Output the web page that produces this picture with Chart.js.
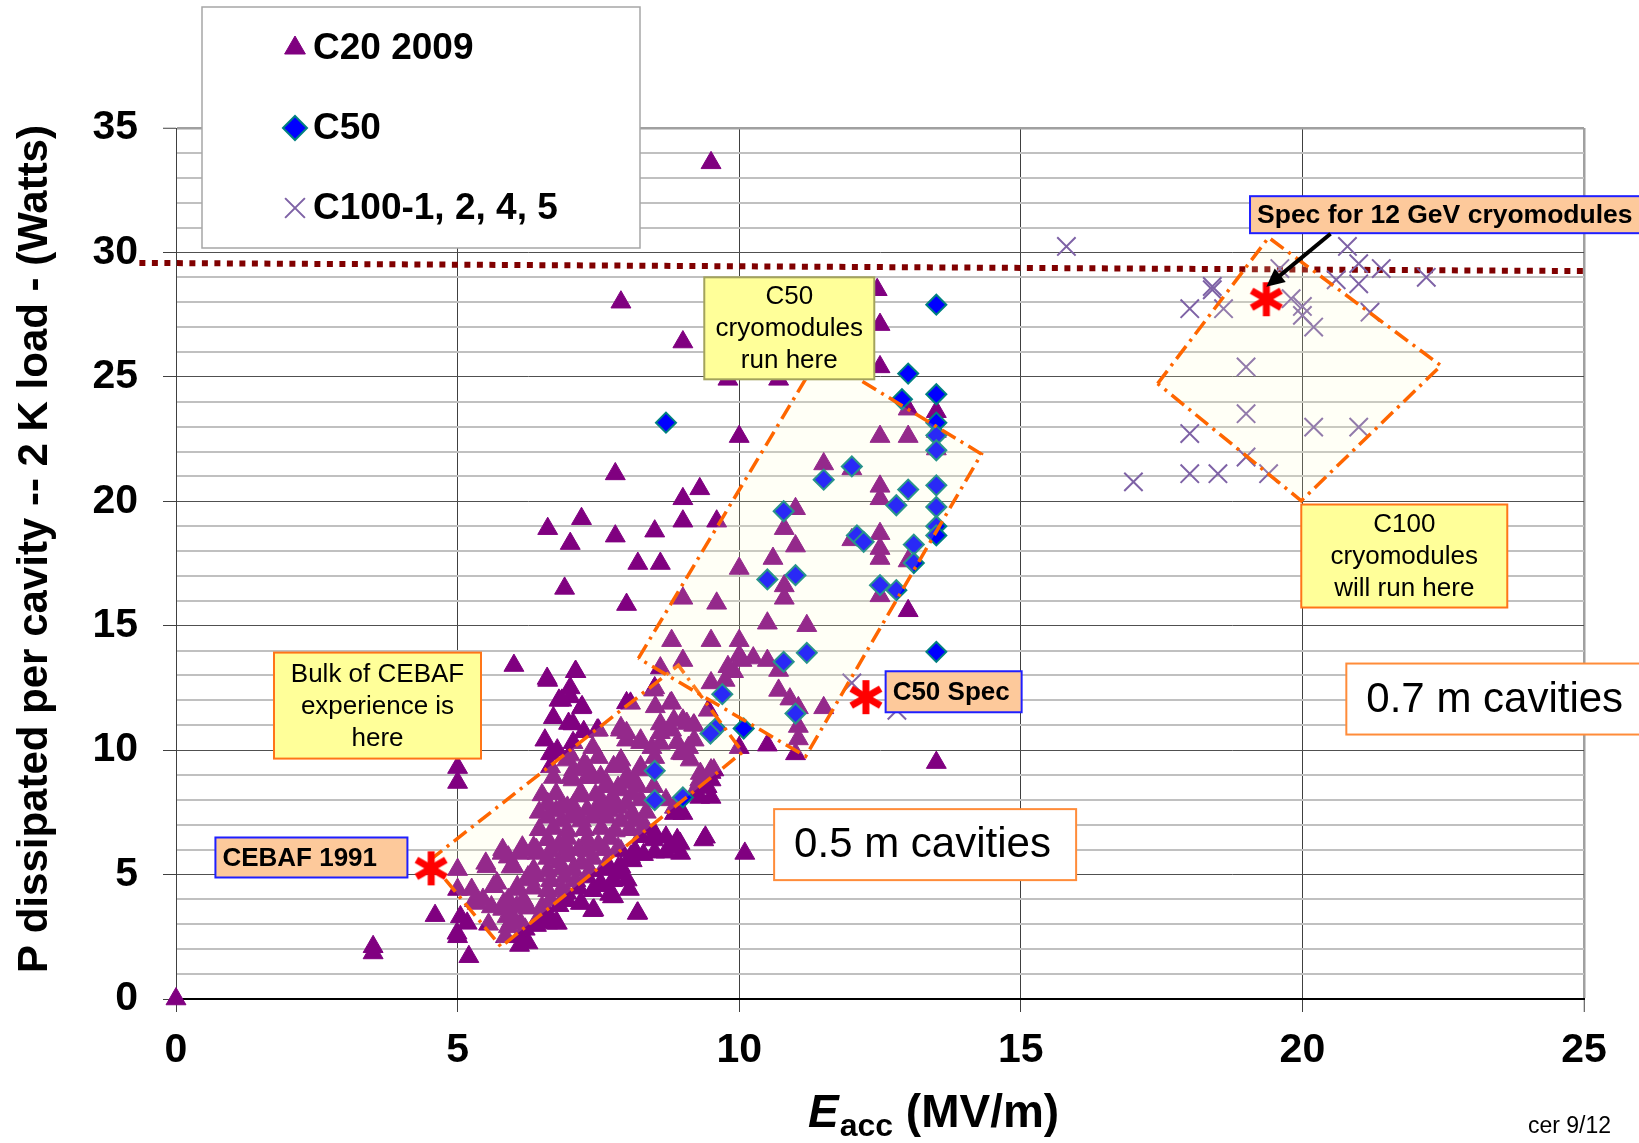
<!DOCTYPE html>
<html>
<head>
<meta charset="utf-8">
<title>Cryomodule heat load vs gradient</title>
<script src="https://cdn.jsdelivr.net/npm/chart.js@4.4.0/dist/chart.umd.min.js"></script>
<style>
  html, body { margin: 0; padding: 0; background: #fff; }
  canvas { display: block; }
</style>
</head>
<body>
<canvas id="myChart" width="1639" height="1143"></canvas>
<script>
// setup
const FONT = '"Liberation Sans", Arial, Helvetica, sans-serif';

const xTicks = [0, 5, 10, 15, 20, 25];
const yTicks = [0, 5, 10, 15, 20, 25, 30, 35];

// C20 2009 cavities: [Eacc MV/m, P watts]
const c20 = [
  [0, 0], [3.5, 2.1], [3.5, 1.85], [4.6, 3.35], [5.0, 2.5], [5.2, 1.7], [5.05, 3.3], [5.0, 4.4], [5.0, 5.2],
  [5.0, 8.7], [5.0, 9.3], [5.25, 4.4], [5.3, 3.95], [5.45, 4.0], [5.5, 5.45], [5.7, 4.65], [5.8, 6.0], [5.8, 3.6],
  [5.9, 4.0], [5.9, 2.9], [5.95, 5.3], [5.9, 5.7], [5.95, 3.1], [6.0, 3.2], [6.05, 3.7], [6.1, 2.15], [6.1, 5.85],
  [6.15, 6.1], [6.2, 2.8], [6.25, 2.25], [6.25, 4.9], [6.35, 6.1], [6.4, 4.95], [6.45, 3.3], [6.6, 3.45], [6.6, 5.65],
  [6.6, 6.4], [6.6, 7.3], [6.6, 7.85], [6.65, 4.75], [6.65, 9.85], [6.7, 8.9], [6.75, 3.05], [6.8, 5.5], [6.8, 6.2],
  [6.85, 7.15], [6.85, 7.75], [6.85, 12.0], [6.9, 4.9], [6.9, 16.5], [6.95, 3.95], [6.95, 5.75], [6.95, 6.45],
  [6.95, 7.7], [7.0, 7.3], [7.0, 8.9], [7.0, 9.8], [7.0, 12.5], [7.0, 18.3], [7.05, 7.75], [7.05, 8.8], [7.05, 10.3],
  [7.05, 11.05], [7.1, 4.75], [7.1, 13.15], [7.15, 6.0], [7.2, 3.85], [7.2, 5.45], [7.2, 7.15], [7.2, 8.25],
  [7.2, 11.7], [7.2, 19.3], [7.25, 9.3], [7.25, 9.45], [7.3, 4.9], [7.3, 6.4], [7.3, 7.6], [7.3, 8.9], [7.4, 3.55],
  [7.4, 5.65], [7.4, 7.3], [7.4, 8.9], [7.4, 10.1], [7.5, 6.2], [7.5, 9.7], [7.5, 10.8], [7.55, 4.55], [7.55, 7.7],
  [7.55, 8.0], [7.65, 5.45], [7.65, 7.3], [7.65, 8.65], [7.7, 4.2], [7.7, 6.45], [7.75, 4.1], [7.75, 4.75],
  [7.75, 7.85], [7.8, 18.6], [7.8, 21.1], [7.85, 7.7], [7.85, 8.5], [7.9, 5.3], [7.9, 5.95], [7.9, 7.15], [7.9, 9.4],
  [7.9, 9.6], [7.9, 10.9], [7.9, 28.0], [8.0, 7.85], [8.0, 8.7], [8.0, 10.7], [8.0, 11.9], [8.0, 15.85], [8.05, 4.4],
  [8.1, 5.55], [8.15, 7.15], [8.2, 3.45], [8.2, 8.55], [8.2, 17.5], [8.25, 8.0], [8.25, 9.2], [8.25, 10.3],
  [8.3, 5.8], [8.3, 6.9], [8.45, 10.1], [8.5, 5.9], [8.5, 6.65], [8.5, 9.7], [8.5, 12.5], [8.5, 18.8], [8.6, 10.7],
  [8.6, 11.05], [8.6, 13.3], [8.6, 17.5], [8.7, 5.9], [8.7, 6.5], [8.7, 8.0], [8.8, 6.1], [8.8, 10.8], [8.8, 11.9],
  [8.8, 14.4], [8.85, 7.45], [8.85, 7.7], [8.9, 6.4], [8.9, 10.3], [8.95, 6.25], [9.0, 7.45], [9.0, 9.85],
  [9.0, 11.2], [9.0, 13.6], [9.0, 16.1], [9.0, 19.2], [9.0, 20.1], [9.0, 26.4], [9.1, 10.1], [9.2, 10.4],
  [9.2, 11.0], [9.3, 8.1], [9.3, 8.7], [9.3, 8.8], [9.3, 20.5], [9.35, 8.5], [9.4, 6.5], [9.45, 11.6], [9.5, 8.1],
  [9.5, 8.8], [9.5, 9.1], [9.5, 9.2], [9.5, 12.7], [9.5, 14.4], [9.5, 33.6], [9.6, 15.9], [9.6, 19.2], [9.75, 12.8],
  [9.8, 13.35], [9.8, 24.9], [9.9, 13.15], [10.0, 10.1], [10.0, 13.8], [10.0, 14.4], [10.0, 17.3], [10.0, 22.6],
  [10.05, 13.6], [10.1, 5.85], [10.25, 13.7], [10.5, 10.2], [10.5, 13.6], [10.5, 15.1], [10.6, 17.7], [10.7, 12.4],
  [10.7, 13.2], [10.7, 24.9], [10.8, 16.1], [10.8, 16.6], [10.8, 18.9], [10.9, 12.05], [11.0, 9.85], [11.0, 18.2],
  [11.0, 19.7], [11.05, 10.45], [11.05, 10.95], [11.05, 11.7], [11.2, 15.0], [11.5, 11.7], [11.5, 21.5],
  [12.0, 18.45], [12.0, 21.3], [12.45, 28.5], [12.5, 16.2], [12.5, 17.7], [12.5, 18.1], [12.5, 18.7], [12.5, 20.1],
  [12.5, 20.6], [12.5, 22.6], [12.5, 25.4], [12.5, 27.1], [13.0, 15.6], [13.0, 17.6], [13.0, 22.6], [13.0, 23.7],
  [13.5, 9.5], [13.5, 22.1], [13.5, 22.8], [13.5, 23.6], [6.0, 13.4], [6.6, 12.8], [6.6, 18.9], [6.55, 10.4],
  [6.7, 11.3],
  // the dense core of the CEBAF experience
  [6.5, 8.2], [6.75, 8.25], [7.15, 8.15], [7.45, 8.2], [7.75, 8.1], [8.1, 8.25],
  [6.45, 7.5], [6.75, 7.55], [7.1, 7.45], [7.45, 7.5], [7.7, 7.55], [8.1, 7.45], [8.35, 7.5],
  [6.45, 6.8], [6.7, 6.85], [6.95, 6.75], [7.25, 6.8], [7.55, 6.85], [7.8, 6.75], [8.05, 6.8], [8.35, 6.85],
  [6.4, 6.0], [6.65, 5.95], [6.95, 6.05], [7.3, 5.95], [7.6, 6.0], [7.85, 6.05], [8.15, 5.95],
  [6.35, 5.2], [6.6, 5.15], [6.85, 5.25], [7.05, 5.2], [7.35, 5.15], [7.6, 5.2], [7.85, 5.25],
  [6.05, 4.4], [6.35, 4.45], [6.6, 4.35], [6.85, 4.4], [7.15, 4.45], [7.4, 4.35],
  [5.6, 3.7], [5.85, 3.75], [6.25, 3.65], [6.5, 3.7], [6.8, 3.75],
  [5.55, 3.0], [6.4, 2.95], [6.6, 3.05], [5.85, 2.5], [6.1, 2.5],
  [6.59, 12.88], [7.09, 13.15], [6.8, 12.0], [7.0, 12.14], [7.21, 11.74], [6.97, 11.07], [7.24, 10.74],
  [7.48, 10.8], [7.89, 10.8], [8.07, 11.88], [8.48, 12.41], [8.78, 11.88], [8.51, 11.74], [8.84, 11.2],
  [9.07, 11.07], [9.19, 11.0], [8.25, 10.4], [8.0, 10.4], [8.6, 10.27], [8.96, 9.87], [9.13, 9.6],
  [6.77, 10.0], [6.94, 9.6], [6.65, 9.33], [7.06, 9.2], [7.3, 9.33], [7.54, 8.93], [7.77, 9.33], [8.01, 8.93],
  [7.65, 8.53], [7.89, 8.4], [8.25, 9.33], [8.13, 8.8], [8.48, 8.53], [9.31, 9.06], [9.55, 9.2], [9.43, 8.53],
  [9.19, 8.26],
  [5.79, 5.85], [6.17, 5.98], [6.41, 5.85], [5.52, 5.31], [6.0, 5.31], [5.64, 4.51], [6.06, 4.51], [6.29, 4.78],
  [5.35, 3.84], [5.82, 3.84], [6.17, 3.98], [5.88, 3.31], [6.12, 3.04], [6.47, 3.31], [6.77, 3.04], [6.65, 3.98],
  [6.94, 4.25], [7.18, 3.84], [7.42, 3.57], [7.77, 4.11], [8.01, 4.78], [8.19, 3.44], [5.17, 3.04], [4.99, 2.64],
  [8.25, 6.52], [8.48, 6.39], [8.84, 6.12], [8.96, 5.85], [9.37, 6.39], [8.07, 5.71], [7.89, 5.05], [7.77, 4.78],
  [7.54, 4.65]
];

// C50 cryomodules
const c50 = [
  [13.5, 27.9], [13.0, 25.13], [12.89, 24.1], [13.5, 24.3], [13.5, 23.16], [13.5, 22.65], [13.5, 22.05],
  [12.0, 21.4], [11.5, 20.87], [13.0, 20.47], [12.79, 19.84], [13.5, 20.64], [13.5, 19.77], [13.5, 19.0],
  [13.5, 18.63], [13.1, 18.26], [13.1, 17.52], [12.09, 18.63], [12.21, 18.37], [10.79, 19.6], [10.5, 16.86],
  [11.0, 17.03], [12.5, 16.63], [12.79, 16.43], [13.5, 13.95], [11.2, 13.91], [10.79, 13.55], [8.7, 23.16],
  [9.7, 12.25], [9.58, 10.87], [9.49, 10.67], [10.08, 10.87], [11.0, 11.47], [8.5, 9.17], [8.5, 7.99], [9.0, 8.1]
];

// C100-1, 2, 4, 5
const c100 = [
  [15.81, 30.24], [20.8, 30.24], [21.0, 29.55], [21.4, 29.35], [22.2, 29.0], [19.6, 29.35], [20.6, 28.9],
  [21.0, 28.74], [18.4, 28.63], [18.4, 28.5], [18.0, 27.74], [18.6, 27.74], [19.8, 28.14], [20.0, 27.83],
  [20.0, 27.47], [20.2, 27.0], [21.2, 27.6], [19.0, 25.4], [19.0, 23.52], [20.2, 22.98], [21.0, 22.98],
  [18.0, 22.72], [19.0, 21.78], [18.0, 21.11], [18.5, 21.11], [19.4, 21.11], [17.0, 20.78], [12.0, 12.7],
  [12.8, 11.6]
];

// spec points: CEBAF 1991, C50 Spec, 12 GeV spec
const specPoints = [[4.53, 5.25], [12.25, 12.13], [19.36, 28.12]];

// 2 K heat budget per cavity
const budgetLine = [[-0.65, 29.58], [25, 29.25]];

// operating regions, closed outlines
const regionCebaf = [[4.5, 5.57], [8.92, 13.41], [10.06, 9.92], [5.77, 2.1], [4.5, 5.57]];
const regionC50 = [[8.21, 13.69], [11.43, 25.86], [14.3, 21.9], [11.18, 9.75], [8.21, 13.69]];
const regionC100 = [[17.43, 24.73], [19.4, 30.6], [22.46, 25.45], [19.98, 20.02], [17.43, 24.73]];

const toXY = arr => arr.map(([x, y]) => ({ x, y }));

// red asterisk used for the spec points
function makeAsterisk(size, width, color) {
  const c = document.createElement('canvas');
  c.width = c.height = size;
  const g = c.getContext('2d');
  g.translate(size / 2, size / 2);
  g.strokeStyle = color;
  g.lineWidth = width;
  const r = size / 2 - 1;
  for (let k = 0; k < 3; k++) {
    const a = Math.PI / 2 + k * Math.PI / 3;
    g.beginPath();
    g.moveTo(-Math.cos(a) * r, -Math.sin(a) * r);
    g.lineTo(Math.cos(a) * r, Math.sin(a) * r);
    g.stroke();
  }
  return c;
}
const asterisk = makeAsterisk(36, 7, '#ff0000');

const regionStyle = {
  type: 'line',
  borderColor: '#ff6600',
  borderWidth: 3.5,
  borderDash: [16, 6, 3, 6],
  backgroundColor: 'rgba(255,255,200,0.16)',
  fill: 'shape',
  pointRadius: 0,
  tension: 0,
  order: 1
};

const c20Style = { label: 'C20 2009', pointStyle: 'triangle', radius: 11.5, borderWidth: 1, color: '#800080', border: '#800080' };
const c50Style = { label: 'C50', pointStyle: 'rectRot', radius: 10, borderWidth: 2, color: '#0000ff', border: '#008080' };
const c100Style = { label: 'C100-1, 2, 4, 5', pointStyle: 'crossRot', radius: 13, borderWidth: 2, color: '#7e62a6', border: '#7e62a6' };

// text boxes, anchored by their top-left corner in data units
const callouts = [
  { text: ['C50', 'cryomodules', 'run here'], at: [9.38, 29.0], w: 170, h: 102, fill: '#ffff99', edge: '#a3a35c', size: 26, bold: false },
  { text: ['Bulk of CEBAF', 'experience is', 'here'], at: [1.74, 13.92], w: 207, h: 106, fill: '#ffff99', edge: '#ff7518', size: 26, bold: false },
  { text: ['C100', 'cryomodules', 'will run here'], at: [19.98, 19.87], w: 206, h: 103, fill: '#ffff99', edge: '#ff7518', size: 26, bold: false },
  { text: ['0.5 m cavities'], at: [10.62, 7.63], w: 302, h: 71, fill: '#ffffff', edge: '#ff8c3a', size: 42, bold: false, left: 20 },
  { text: ['0.7 m cavities'], at: [20.78, 13.48], w: 320, h: 71, fill: '#ffffff', edge: '#ff8c3a', size: 42, bold: false, left: 20 },
  { text: ['CEBAF 1991'], at: [0.7, 6.49], w: 192, h: 40, fill: '#fdc99b', edge: '#1f1fff', size: 26, bold: true, left: 7 },
  { text: ['C50 Spec'], at: [12.6, 13.17], w: 136, h: 41, fill: '#fdc99b', edge: '#1f1fff', size: 26, bold: true, left: 7 },
  { text: ['Spec for 12 GeV cryomodules'], at: [19.07, 32.26], w: 392, h: 37, fill: '#fdc99b', edge: '#1f1fff', size: 26.5, bold: true, left: 7 }
];
const specArrow = { from: [20.5, 30.75], to: [19.36, 28.62] };

const overlay = {
  id: 'overlay',
  afterDraw(chart) {
    const ctx = chart.ctx;
    const sx = chart.scales.x, sy = chart.scales.y;

    // callout boxes
    callouts.forEach(b => {
      const x0 = sx.getPixelForValue(b.at[0]);
      const y0 = sy.getPixelForValue(b.at[1]);
      ctx.save();
      ctx.fillStyle = b.fill;
      ctx.fillRect(x0, y0, b.w, b.h);
      ctx.lineWidth = 2;
      ctx.strokeStyle = b.edge;
      ctx.strokeRect(x0, y0, b.w, b.h);
      ctx.fillStyle = '#000';
      ctx.font = (b.bold ? 'bold ' : '') + b.size + 'px ' + FONT;
      ctx.textBaseline = 'middle';
      const lh = 32;
      const n = b.text.length;
      b.text.forEach((t, i) => {
        const cy = y0 + b.h / 2 + (i - (n - 1) / 2) * lh + 1;
        if (b.left !== undefined) {
          ctx.textAlign = 'left';
          ctx.fillText(t, x0 + b.left, cy);
        } else {
          ctx.textAlign = 'center';
          ctx.fillText(t, x0 + b.w / 2, cy);
        }
      });
      ctx.restore();
    });

    // arrow to the 12 GeV spec point
    const ax0 = sx.getPixelForValue(specArrow.from[0]), ay0 = sy.getPixelForValue(specArrow.from[1]);
    const ax1 = sx.getPixelForValue(specArrow.to[0]), ay1 = sy.getPixelForValue(specArrow.to[1]);
    const ang = Math.atan2(ay1 - ay0, ax1 - ax0);
    ctx.save();
    ctx.strokeStyle = '#000';
    ctx.fillStyle = '#000';
    ctx.lineWidth = 4;
    ctx.beginPath();
    ctx.moveTo(ax0, ay0);
    ctx.lineTo(ax1 - Math.cos(ang) * 12, ay1 - Math.sin(ang) * 12);
    ctx.stroke();
    ctx.beginPath();
    ctx.moveTo(ax1, ay1);
    ctx.lineTo(ax1 - Math.cos(ang - 0.45) * 20, ay1 - Math.sin(ang - 0.45) * 20);
    ctx.lineTo(ax1 - Math.cos(ang + 0.45) * 20, ay1 - Math.sin(ang + 0.45) * 20);
    ctx.closePath();
    ctx.fill();
    ctx.restore();

    // legend box
    ctx.save();
    ctx.fillStyle = '#fff';
    ctx.fillRect(202, 7, 438, 241);
    ctx.strokeStyle = '#a6a6a6';
    ctx.lineWidth = 1.5;
    ctx.strokeRect(202, 7, 438, 241);
    [c20Style, c50Style, c100Style].forEach((s, i) => {
      const y = 48 + i * 80;
      ctx.fillStyle = s.color;
      ctx.strokeStyle = s.border;
      ctx.lineWidth = s.borderWidth;
      Chart.helpers.drawPoint(ctx, { pointStyle: s.pointStyle, radius: s.pointStyle === 'crossRot' ? 14 : 12, rotation: 0, borderWidth: s.borderWidth }, 295, y);
      ctx.fillStyle = '#000';
      ctx.font = 'bold 37px ' + FONT;
      ctx.textAlign = 'left';
      ctx.textBaseline = 'middle';
      ctx.fillText(s.label, 313, y + 1);
    });
    ctx.restore();

    // axis titles
    ctx.save();
    ctx.fillStyle = '#000';
    ctx.translate(35, 549);
    ctx.rotate(-Math.PI / 2);
    ctx.font = 'bold 42px ' + FONT;
    ctx.textAlign = 'center';
    ctx.textBaseline = 'middle';
    ctx.fillText('P dissipated per cavity -- 2 K load - (Watts)', 0, 0);
    ctx.restore();

    ctx.save();
    ctx.fillStyle = '#000';
    ctx.textAlign = 'left';
    ctx.textBaseline = 'alphabetic';
    let tx = 808;
    ctx.font = 'italic bold 46px ' + FONT;
    ctx.fillText('E', tx, 1127);
    tx += ctx.measureText('E').width + 1;
    ctx.font = 'bold 32px ' + FONT;
    ctx.fillText('acc', tx, 1136);
    tx += ctx.measureText('acc').width;
    ctx.font = 'bold 46px ' + FONT;
    ctx.fillText(' (MV/m)', tx, 1127);
    ctx.font = '23px ' + FONT;
    ctx.textAlign = 'right';
    ctx.fillText('cer 9/12', 1611, 1133);
    ctx.restore();
  }
};

const pointSet = (s, arr, order) => ({
  label: s.label,
  data: toXY(arr),
  pointStyle: s.pointStyle,
  pointRadius: s.radius,
  pointBorderWidth: s.borderWidth,
  pointBackgroundColor: s.color,
  pointBorderColor: s.border,
  showLine: false,
  clip: false,
  order
});

const data = {
  datasets: [
    { label: 'spec', data: toXY(specPoints), pointStyle: asterisk, pointRadius: 14, showLine: false, clip: false, order: 0 },
    Object.assign({ label: 'C50 region', data: toXY(regionC50) }, regionStyle),
    Object.assign({ label: 'CEBAF region', data: toXY(regionCebaf) }, regionStyle),
    Object.assign({ label: 'C100 region', data: toXY(regionC100) }, regionStyle),
    pointSet(c100Style, c100, 2),
    pointSet(c50Style, c50, 3),
    pointSet(c20Style, c20, 4),
    {
      type: 'line', label: '2 K budget', data: toXY(budgetLine),
      borderColor: '#800000', borderWidth: 6, borderDash: [6, 6.5], borderCapStyle: 'butt',
      pointRadius: 0, fill: false, clip: false, order: 5
    }
  ]
};

const tickFont = { family: FONT, size: 41, weight: 'bold' };

// config
const config = {
  type: 'scatter',
  data,
  options: {
    responsive: false,
    animation: false,
    devicePixelRatio: 1,
    layout: { padding: { top: 128, right: 55, bottom: 0, left: 0 } },
    plugins: {
      legend: { display: false },
      tooltip: { enabled: false }
    },
    scales: {
      x: {
        type: 'linear',
        min: 0,
        max: 25,
        afterFit: s => { s.height = 144; },
        ticks: {
          stepSize: 5,
          font: tickFont,
          color: '#000',
          padding: 14,
          maxRotation: 0,
          callback: v => xTicks.includes(v) ? v : ''
        },
        grid: {
          color: c => c.tick && c.tick.value === 25 ? '#a0a0a0' : '#404040',
          lineWidth: c => c.tick && c.tick.value === 25 ? 2.5 : 1,
          tickLength: 13,
          tickColor: '#404040',
          tickWidth: 1
        },
        border: { color: '#000', width: 2 }
      },
      y: {
        type: 'linear',
        min: 0,
        max: 35,
        afterFit: s => { s.width = 176; },
        ticks: {
          stepSize: 1,
          autoSkip: false,
          font: tickFont,
          color: '#000',
          padding: 25,
          callback: v => yTicks.includes(v) ? v : ''
        },
        grid: {
          color: c => {
            const v = c.tick ? c.tick.value : 0;
            if (v === 35) return '#a0a0a0';
            return yTicks.includes(v) ? '#505050' : '#c0c0c0';
          },
          lineWidth: c => {
            const v = c.tick ? c.tick.value : 0;
            if (v === 35) return 2.5;
            return yTicks.includes(v) ? 1 : 2;
          },
          tickLength: 13,
          tickColor: c => (c.tick && yTicks.includes(c.tick.value)) ? '#404040' : 'rgba(0,0,0,0)',
          tickWidth: 1
        },
        border: { color: '#404040', width: 1 }
      }
    }
  },
  plugins: [overlay]
};

// render init block
const myChart = new Chart(document.getElementById('myChart'), config);
</script>
</body>
</html>
